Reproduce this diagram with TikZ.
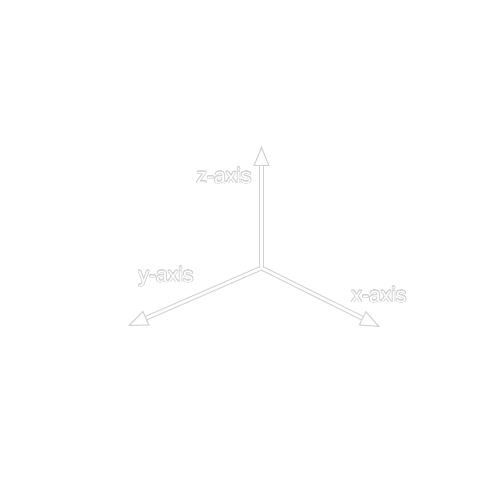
\documentclass[tikz,border=0pt]{standalone}
\usepackage{fontspec}
\setsansfont{Liberation Sans}
\usepackage[copies]{contour}
\usepackage{tikz}
\usetikzlibrary{arrows.meta}
\definecolor{axisgray}{RGB}{210,210,210}
\contourlength{0.4pt}
\newcommand{\axistext}[1]{\contour{axisgray}{\textcolor{white}{#1}}}

\begin{document}
\begin{tikzpicture}[
			x=0.02cm,
			y=-0.02cm, % pixel-like units, y going down
			axis/.style={
					draw=axisgray,
					line width=0.6pt,
					double=white,
					double distance=1.5pt,
					-{Triangle[length=0.4cm, width=0.32cm, fill=white, line width=0.6pt]}
				},
			axislabel/.style={
					font=\sffamily\fontsize{12}{14}\selectfont,
					inner sep=0pt
				}
		]
		\useasboundingbox[fill=white] (0, 0) rectangle (500, 500);

		\coordinate (origin) at (261.5, 268);
		\coordinate (xtip) at (380, 327);
		\coordinate (ytip) at (128, 326);
		\coordinate (ztip) at (261.5, 146);

		\draw[axis] (origin) -- (xtip);
		\draw[axis] (origin) -- (ytip);
		\draw[axis] (origin) -- (ztip);

		\node[axislabel] (xlabel) at (379, 295) {\axistext{x-axis}};
		\node[axislabel] (ylabel) at (166, 277) {\axistext{y-axis}};
		\node[axislabel] (zlabel) at (224, 176) {\axistext{z-axis}};
	\end{tikzpicture}
\end{document}
